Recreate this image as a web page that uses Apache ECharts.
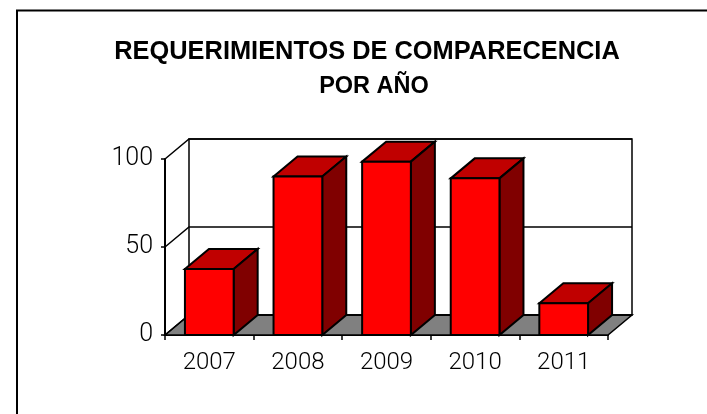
<!DOCTYPE html>
<html lang="en">

<head>
  <script src="https://cdn.jsdelivr.net/npm/echarts@6.0.0/dist/echarts.min.js"></script>
  <meta charset="UTF-8">
  <style>
    html, body { margin: 0; padding: 0; background: #fff; }
  </style>
</head>

<body>
  <div id="chart" style="width: 707px;height:414px;"></div>

  <script type="text/javascript">
    const categories = ['2007', '2008', '2009', '2010', '2011'];
    const values = [37.5, 90, 98.5, 89, 18];
    const yTicks = [0, 50, 100];
    const titleLines = ['REQUERIMIENTOS DE COMPARECENCIA', 'POR AÑO'];

    // fake 3d depth, in pixels
    const depthX = 24;
    const depthY = 20;

    const chart = echarts.init(document.getElementById('chart'));

    function poly(points, fill, z2) {
      return {
        type: 'polygon',
        shape: { points: points },
        z2: z2 || 0,
        style: { fill: fill, stroke: '#000', lineWidth: 2, lineJoin: 'miter' }
      };
    }

    function renderWall(params, api) {
      const g = params.coordSys;
      const left = g.x, right = g.x + g.width;
      const children = [];

      // floor
      const y0 = api.coord([0, 0])[1];
      children.push({
        type: 'polygon',
        shape: { points: [
          [left, y0], [left + depthX, y0 - depthY],
          [right + depthX, y0 - depthY], [right, y0]
        ] },
        style: { fill: '#808080', stroke: '#000', lineWidth: 1.5 }
      });

      // back wall
      const top = api.coord([0, 100])[1];
      children.push({
        type: 'polygon',
        shape: { points: [
          [left + depthX, top - depthY], [right + depthX, top - depthY],
          [right + depthX, y0 - depthY], [left + depthX, y0 - depthY]
        ] },
        style: { fill: 'none', stroke: '#000', lineWidth: 1.5 }
      });

      // grid lines, wall and side
      yTicks.forEach(function (t) {
        const y = api.coord([0, t])[1];
        children.push({
          type: 'polyline',
          shape: { points: [[left, y], [left + depthX, y - depthY], [right + depthX, y - depthY]] },
          style: { fill: 'none', stroke: '#000', lineWidth: 1.5 }
        });
      });
      return { type: 'group', children: children };
    }

    function renderBar(params, api) {
      const c = api.coord([api.value(0), api.value(1)]);
      const base = api.coord([api.value(0), 0])[1];
      const w = api.size([1, 0])[0] * 0.55;
      const l = c[0] - w / 2, r = c[0] + w / 2, t = c[1];
      return {
        type: 'group',
        children: [
          poly([[l, t], [l + depthX, t - depthY], [r + depthX, t - depthY], [r, t]], '#c00000'),
          poly([[r, t], [r + depthX, t - depthY], [r + depthX, base - depthY], [r, base]], '#800000'),
          poly([[l, t], [r, t], [r, base], [l, base]], '#ff0000')
        ]
      };
    }

    const option = {
      animation: false,
      backgroundColor: '#fff',
      title: [
        {
          text: titleLines[0],
          left: 362,
          top: 29,
          textAlign: 'center',
          textStyle: {
            fontFamily: 'Liberation Sans', fontWeight: 'bold', fontSize: 25.4, lineHeight: 36, color: '#000'
          }
        },
        {
          text: titleLines[1],
          left: 369,
          top: 64,
          textAlign: 'center',
          textStyle: {
            fontFamily: 'Liberation Sans', fontWeight: 'bold', fontSize: 23.5, lineHeight: 36, color: '#000'
          }
        }
      ],
      grid: { left: 165, right: 99, top: 159, bottom: 79 },
      xAxis: {
        type: 'category',
        data: categories,
        axisLine: { lineStyle: { color: '#000', width: 2 } },
        axisTick: { show: true, length: 5, lineStyle: { color: '#000', width: 1.5 } },
        axisLabel: {
          color: '#000', margin: 16, fontSize: 24, fontFamily: 'Roboto', fontWeight: 300
        }
      },
      yAxis: {
        type: 'value',
        min: 0,
        max: 100,
        interval: 50,
        splitLine: { show: false },
        axisLine: { show: true, lineStyle: { color: '#000', width: 2 } },
        axisTick: { show: true, length: 4, lineStyle: { color: '#000', width: 1.5 } },
        axisLabel: {
          color: '#000', margin: 12, fontSize: 25, fontFamily: 'Roboto', fontWeight: 300
        }
      },
      series: [
        {
          type: 'custom',
          silent: true,
          z: 1,
          renderItem: renderWall,
          data: [[0, 0]]
        },
        {
          type: 'custom',
          z: 3,
          renderItem: renderBar,
          encode: { x: 0, y: 1 },
          data: values.map((v, i) => [i, v])
        }
      ],
      graphic: [
        {
          // page frame, only top and left
          type: 'polyline',
          shape: { points: [[17, 414], [17, 10.5], [707, 10.5]] },
          style: { fill: 'none', stroke: '#000', lineWidth: 2 }
        }
      ]
    };

    chart.setOption(option);
  </script>
</body>

</html>
